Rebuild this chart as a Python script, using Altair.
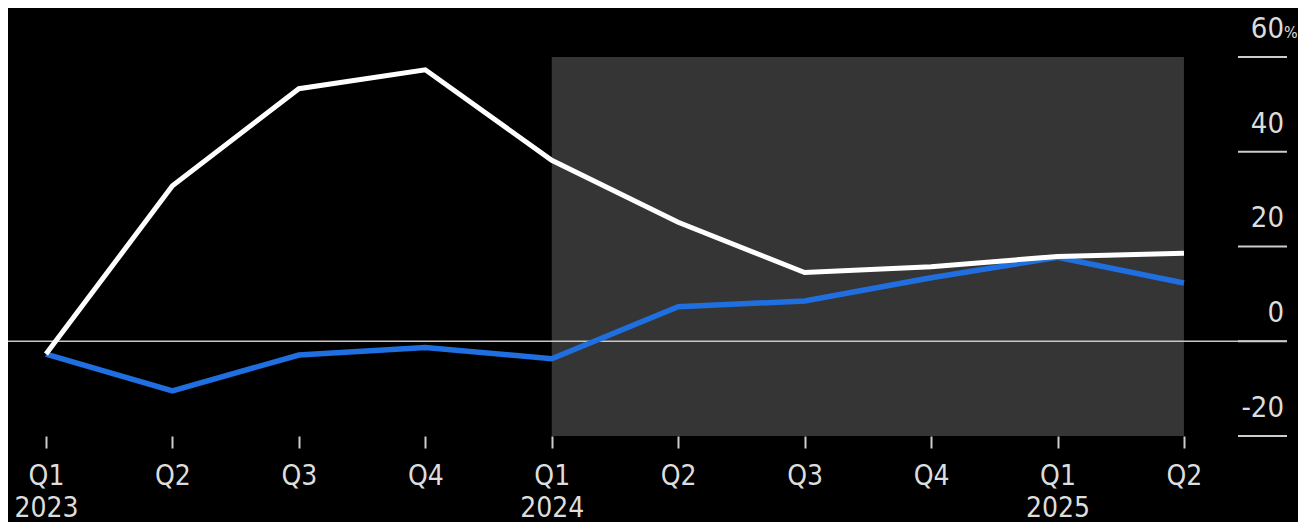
import json
import altair as alt
import pandas as pd

quarters = ["Q1", "Q2", "Q3", "Q4", "Q1", "Q2", "Q3", "Q4", "Q1", "Q2"]
years = ["2023", "", "", "", "2024", "", "", "", "2025", ""]
white_series = [-2.7, 32.8, 53.3, 57.3, 38.2, 25.1, 14.5, 15.7, 17.9, 18.6]
blue_series = [-2.7, -10.5, -2.9, -1.3, -3.7, 7.3, 8.5, 13.4, 17.7, 12.3]
y_ticks = [-20, 0, 20, 40, 60]
y_tick_labels = ["-20", "0", "20", "40", "60"]
shade_from, shade_to = 4, 9
shade_low, shade_high = -20, 60

FONT = "DejaVu Sans Condensed, DejaVu Sans, sans-serif"
W, H = 1279, 428

idx = list(range(len(quarters)))
df = pd.DataFrame({"i": idx, "white": white_series, "blue": blue_series})
ticks_df = pd.DataFrame({"v": y_ticks, "lab": y_tick_labels})
shade_df = pd.DataFrame({"x": [shade_from], "x2": [shade_to], "y": [shade_low], "y2": [shade_high]})
pct_df = pd.DataFrame({"v": [y_ticks[-1]], "lab": ["%"]})
zero_df = pd.DataFrame({"v": [0]})

label_arr = [[q, y] if y else [q] for q, y in zip(quarters, years)]
label_expr = json.dumps(label_arr) + "[datum.value]"

xscale = alt.Scale(domain=[-0.3005, 9.815], nice=False, zero=False)
yscale = alt.Scale(domain=[-20, 70.34], nice=False, zero=False)

xaxis = alt.Axis(
    values=idx, labelExpr=label_expr, title=None, domain=False, grid=False,
    tickSize=12, tickWidth=2, tickColor="#cccccc", labelColor="#dddddd",
    labelFont=FONT, labelFontSize=28, labelPadding=14, labelLineHeight=32,
    labelOverlap=False, labelFlush=False, labelBaseline="top",
)

shade = alt.Chart(shade_df).mark_rect(color="#353535").encode(
    x=alt.X("x:Q", scale=xscale, axis=xaxis), x2="x2:Q",
    y=alt.Y("y:Q", scale=yscale, axis=None), y2="y2:Q",
)

zero = alt.Chart(zero_df).mark_rule(color="#c8c8c8", strokeWidth=1.5).encode(
    x=alt.value(0), x2=alt.value(W), y=alt.Y("v:Q", scale=yscale, axis=None)
)

tick_rules = alt.Chart(ticks_df).mark_rule(color="#cccccc", strokeWidth=2).encode(
    x=alt.value(1230), x2=alt.value(1279), y=alt.Y("v:Q", scale=yscale, axis=None)
)

tick_text = alt.Chart(ticks_df).mark_text(
    align="right", baseline="alphabetic", dy=-19, font=FONT, fontSize=29, color="#dddddd"
).encode(x=alt.value(1276), y=alt.Y("v:Q", scale=yscale, axis=None), text="lab:N")

pct_text = alt.Chart(pct_df).mark_text(
    align="left", baseline="alphabetic", dy=-19, font=FONT, fontSize=16, color="#dddddd"
).encode(x=alt.value(1276), y=alt.Y("v:Q", scale=yscale, axis=None), text="lab:N")

blue_line = alt.Chart(df).mark_line(color="#1f6fe0", strokeWidth=5.5).encode(
    x=alt.X("i:Q", scale=xscale), y=alt.Y("blue:Q", scale=yscale, axis=None)
)
white_line = alt.Chart(df).mark_line(color="#ffffff", strokeWidth=5).encode(
    x=alt.X("i:Q", scale=xscale), y=alt.Y("white:Q", scale=yscale, axis=None)
)

chart = alt.layer(shade, zero, tick_rules, tick_text, pct_text, blue_line, white_line).properties(
    width=W, height=H,
    autosize=alt.AutoSizeParams(type="none"),
    padding={"left": 0, "top": 0, "right": 11, "bottom": 86},
    background="black",
).configure_view(strokeWidth=0)

chart.save("out.html", embed_options={"renderer": "svg", "actions": False})
